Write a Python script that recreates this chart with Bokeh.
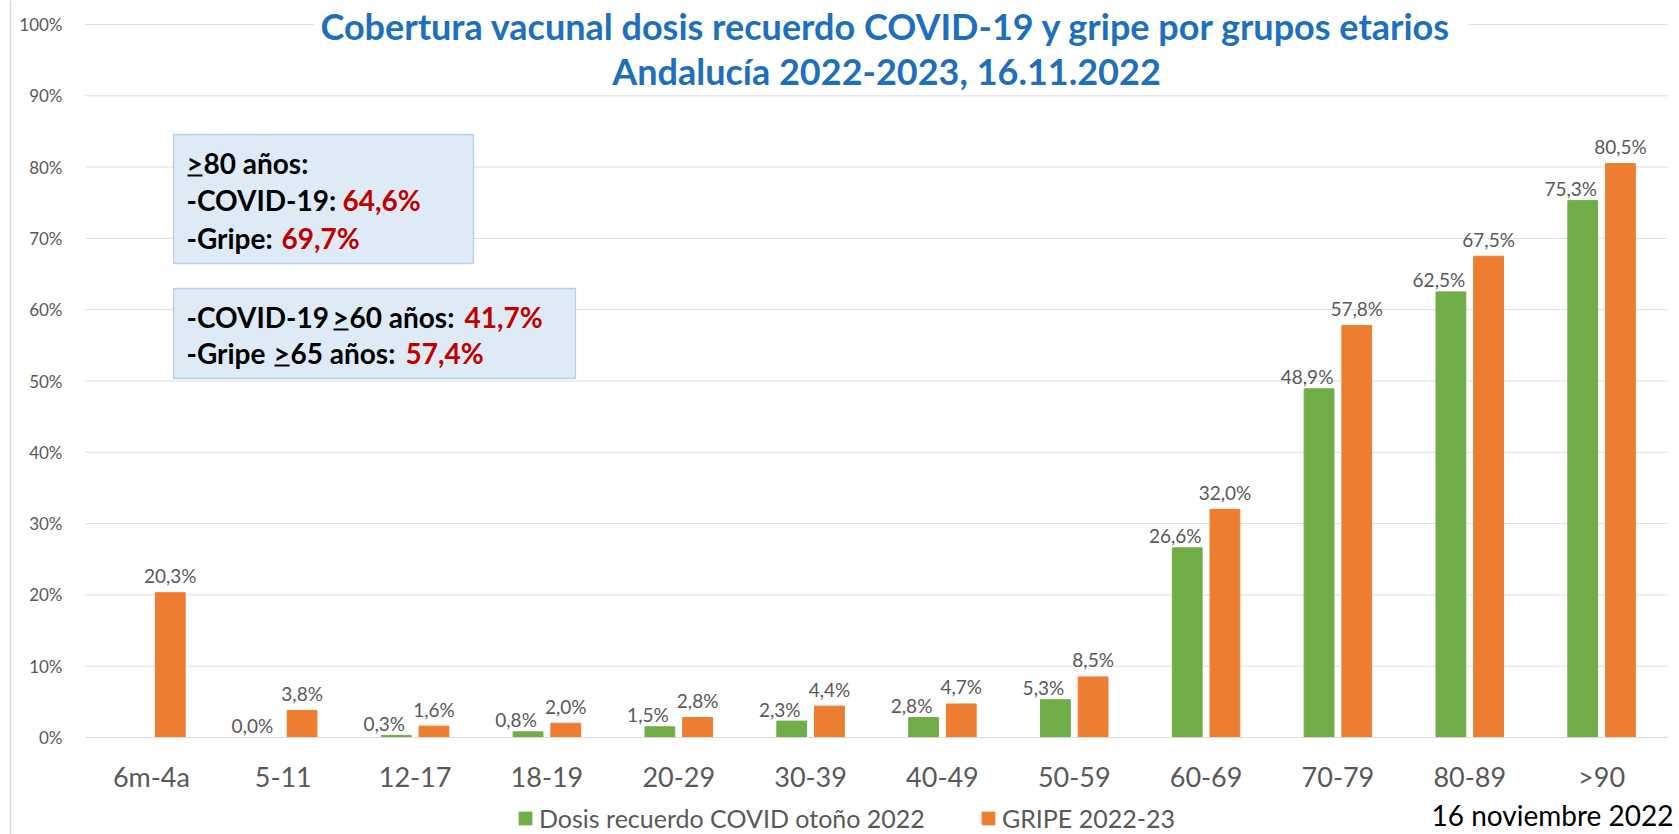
import math
from bokeh.plotting import figure
from bokeh.models import (ColumnDataSource, Range1d, Label, BoxAnnotation, LinearAxis,
                          Legend, LegendItem, FixedTicker, PrintfTickFormatter)
from bokeh.core.properties import value
from bokeh.embed import file_html
from bokeh.resources import INLINE

# ---------------- data ----------------
age_groups = ["6m-4a", "5-11", "12-17", "18-19", "20-29", "30-39",
              "40-49", "50-59", "60-69", "70-79", "80-89", ">90"]
covid_booster = [float("nan"), 0.0, 0.3, 0.8, 1.5, 2.3, 2.8, 5.3, 26.6, 48.9, 62.5, 75.3]
flu_vaccine = [20.3, 3.8, 1.6, 2.0, 2.8, 4.4, 4.7, 8.5, 32.0, 57.8, 67.5, 80.5]
y_ticks = [0, 10, 20, 30, 40, 50, 60, 70, 80, 90, 100]
series_names = ["Dosis recuerdo COVID otoño 2022", "GRIPE 2022-23"]
title_lines = ["Cobertura vacunal dosis recuerdo COVID-19 y gripe por grupos etarios",
               "Andalucía 2022-2023, 16.11.2022"]
box1_lines = [(">", "80 años:", ""), ("", "-COVID-19:", "64,6%"), ("", "-Gripe:", "69,7%")]
box2_lines = [("-COVID-19 ", ">", "60 años:", "41,7%"), ("-Gripe ", ">", "65 años:", "57,4%")]
date_text = "16 noviembre 2022"

GREEN = "#70AD47"
ORANGE = "#ED7D31"
GREY = "#595959"
RED = "#C00000"
BLUE = "#1E6FBF"


def fmt(v):
    return "" if math.isnan(v) else f"{v:.1f}%".replace(".", ",")


# ---------------- geometry (page pixels; the canvas starts at the page corner) ----------------
W, H = 1679, 834
FL, FB = 85.0, 737.0          # plot-area left / bottom (0%)
FR, FT = 1667.0, 24.0         # plot-area right / top (100%)
NCAT = len(age_groups)
CW = (FR - FL) / NCAT
PY = (FB - FT) / 100.0


def dx(px):
    return (px - FL) / CW


def dy(py):
    return (FB - py) / PY


p = figure(width=W, height=H,
           x_range=Range1d(dx(0), dx(W)),
           y_range=Range1d(dy(H), dy(0)),
           x_axis_location=None, y_axis_location=None,
           output_backend="svg", toolbar_location=None,
           min_border=0, min_border_left=0, min_border_right=0,
           min_border_top=0, min_border_bottom=0)
p.outline_line_color = None
p.background_fill_color = "white"
p.border_fill_color = "white"
p.xgrid.visible = False
p.ygrid.visible = False

x_centers = [i + 0.5 for i in range(NCAT)]

# left border line of the chart area
p.segment(x0=[dx(10)], x1=[dx(10)], y0=[dy(0)], y1=[dy(H)],
          line_color="#D9D9D9", line_width=1.5, level="underlay")

# gridlines over the plot area only
p.segment(x0=[0] * len(y_ticks), x1=[NCAT] * len(y_ticks), y0=y_ticks, y1=y_ticks,
          line_color="#DEDEDE", line_width=1, level="underlay")

yaxis = LinearAxis(fixed_location=0, ticker=FixedTicker(ticks=y_ticks),
                   formatter=PrintfTickFormatter(format="%d%%"))
yaxis.axis_line_color = None
yaxis.major_tick_line_color = None
yaxis.minor_tick_line_color = None
yaxis.major_tick_out = 0
yaxis.minor_tick_out = 0
yaxis.major_label_standoff = 23
yaxis.major_label_text_font = "Lato"
yaxis.major_label_text_font_size = "17px"
yaxis.major_label_text_color = GREY
p.add_layout(yaxis, "left")

xaxis = LinearAxis(fixed_location=0, ticker=FixedTicker(ticks=x_centers),
                   major_label_overrides={c: g for c, g in zip(x_centers, age_groups)},
                   bounds=(0, NCAT))
xaxis.axis_line_color = "#D9D9D9"
xaxis.major_tick_line_color = None
xaxis.minor_tick_line_color = None
xaxis.major_tick_out = 0
xaxis.minor_tick_out = 0
xaxis.major_label_standoff = 22
xaxis.major_label_text_font = "Lato"
xaxis.major_label_text_font_size = "27px"
xaxis.major_label_text_color = GREY
p.add_layout(xaxis, "below")

OFF, BW = 0.143, 0.226
src = ColumnDataSource(dict(
    xg=[c - OFF for c in x_centers], xo=[c + OFF for c in x_centers],
    covid=covid_booster, flu=flu_vaccine,
    covid_lbl=[fmt(v) for v in covid_booster],
    flu_lbl=[fmt(v) for v in flu_vaccine]))

g = p.vbar(x="xg", top="covid", width=BW, source=src,
           fill_color=GREEN, line_color=GREEN, line_width=1)
o = p.vbar(x="xo", top="flu", width=BW, source=src,
           fill_color=ORANGE, line_color=ORANGE, line_width=1)

p.text(x="xg", y="covid", text="covid_lbl", source=src,
       text_align="center", text_baseline="middle", x_offset=-12, y_offset=-12,
       text_font=value("Lato"), text_font_size="19px", text_color=GREY)
p.text(x="xo", y="flu", text="flu_lbl", source=src,
       text_align="center", text_baseline="middle", x_offset=0, y_offset=-17,
       text_font=value("Lato"), text_font_size="19px", text_color=GREY)

# title with white background
p.add_layout(BoxAnnotation(left=dx(313), right=dx(1468), top=dy(0), bottom=dy(90),
                           fill_color="white", fill_alpha=1, line_alpha=0))
for txt, yy in zip(title_lines, [25, 70]):
    p.add_layout(Label(x=dx(886), y=dy(yy), text=txt, text_align="center",
                       text_baseline="middle", text_font="Lato", text_font_style="bold",
                       text_font_size="36px", text_color=BLUE))

# info boxes
p.add_layout(BoxAnnotation(left=dx(173), right=dx(473), top=dy(134), bottom=dy(263),
                           fill_color="#DEEBF7", fill_alpha=1, line_color="#4472C4",
                           line_width=1.3))
p.add_layout(BoxAnnotation(left=dx(173), right=dx(575), top=dy(288), bottom=dy(378),
                           fill_color="#DEEBF7", fill_alpha=1, line_color="#4472C4",
                           line_width=1.3))


def seg(xp, yp, txt, color="black"):
    p.add_layout(Label(x=dx(xp), y=dy(yp), text=txt, text_align="left",
                       text_baseline="middle", text_font="Lato", text_font_style="bold",
                       text_font_size="28px", text_color=color))


ul_left, ul_right, ul_y = [], [], []


def underline(x0, x1, yp):
    ul_left.append(dx(x0)); ul_right.append(dx(x1)); ul_y.append(yp)


# box 1
seg(186, 162, box1_lines[0][0]); underline(187, 202, 175)
seg(203, 162, box1_lines[0][1])
seg(186, 199, box1_lines[1][1]); seg(342, 199, box1_lines[1][2], RED)
seg(186, 237, box1_lines[2][1]); seg(281, 237, box1_lines[2][2], RED)
# box 2
seg(186, 316, box2_lines[0][0]); seg(332, 316, box2_lines[0][1]); underline(333, 348, 329)
seg(349, 316, box2_lines[0][2]); seg(464, 316, box2_lines[0][3], RED)
seg(186, 352, box2_lines[1][0]); seg(273, 352, box2_lines[1][1]); underline(274, 289, 365)
seg(290, 352, box2_lines[1][2]); seg(405, 352, box2_lines[1][3], RED)

p.quad(left=ul_left, right=ul_right, top=[dy(v - 1) for v in ul_y],
       bottom=[dy(v + 1) for v in ul_y], fill_color="black", line_color=None,
       level="overlay")

# legend
legend = Legend(items=[LegendItem(label=series_names[0], renderers=[g]),
                       LegendItem(label=series_names[1], renderers=[o])],
                orientation="horizontal", location=(517, 1), padding=0, margin=0,
                spacing=55, label_standoff=6, glyph_width=16, glyph_height=16,
                label_text_font="Lato", label_text_font_size="25px",
                label_text_color=GREY, border_line_color=None, background_fill_alpha=0)
p.add_layout(legend)

# date
p.add_layout(Label(x=dx(1673), y=dy(814), text=date_text, text_align="right",
                   text_baseline="middle", text_font="Lato", text_font_size="28px",
                   text_color="black"))

open("out.html", "w").write(file_html(p, INLINE))
